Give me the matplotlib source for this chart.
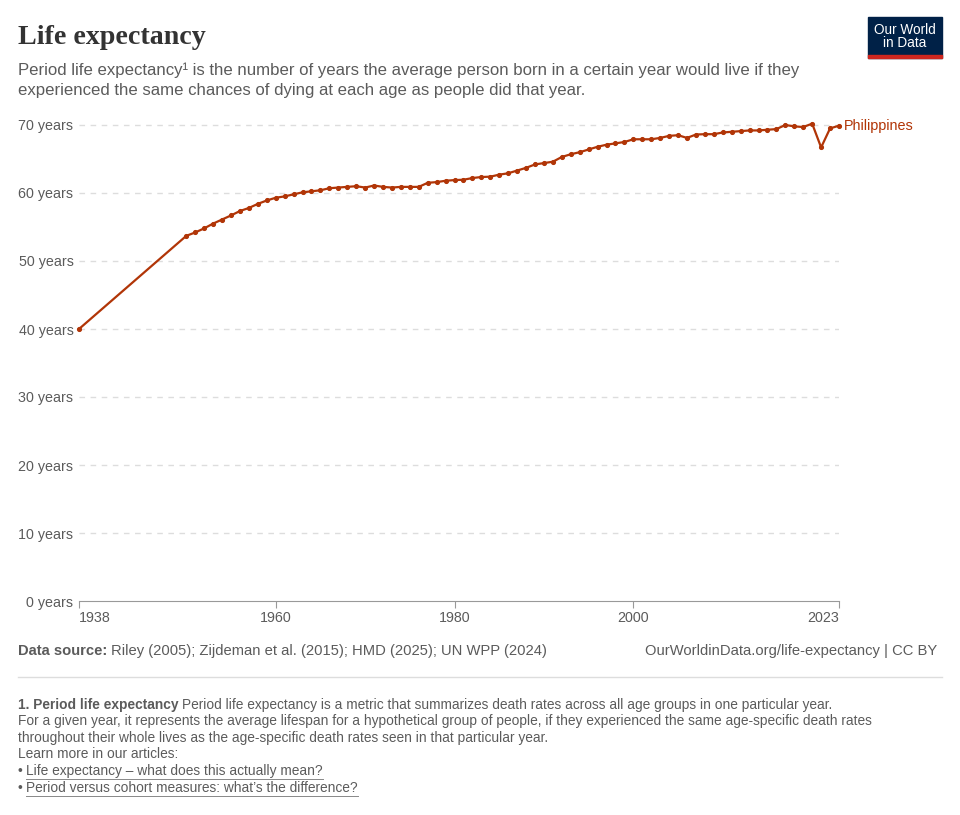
import numpy as np
import matplotlib
matplotlib.use("Agg")
import matplotlib.pyplot as plt
from matplotlib.lines import Line2D
from matplotlib.patches import Rectangle

# Data
years = [1938] + list(range(1950, 2024))
life_exp = [40.0,
            53.7, 54.2, 54.8, 55.5, 56.1, 56.7, 57.35, 57.8, 58.4, 58.9,
            59.3, 59.5, 59.8, 60.1, 60.25, 60.4, 60.7, 60.8, 60.9, 61.0,
            60.8, 61.1, 60.9, 60.8, 60.9, 60.9, 60.9, 61.5, 61.6, 61.8,
            61.9, 61.95, 62.2, 62.35, 62.4, 62.7, 62.9, 63.3, 63.7, 64.2,
            64.4, 64.6, 65.3, 65.7, 66.0, 66.4, 66.8, 67.1, 67.3, 67.5,
            67.9, 67.9, 67.9, 68.1, 68.4, 68.5, 68.1, 68.6, 68.65, 68.65,
            68.9, 69.0, 69.1, 69.2, 69.2, 69.3, 69.4, 70.0, 69.8, 69.7,
            70.2, 66.7, 69.5, 69.9]
life_exp = life_exp[:len(years)]
y_ticks = [0, 10, 20, 30, 40, 50, 60, 70]
x_ticks = [1938, 1960, 1980, 2000, 2023]
country = "Philippines"

line_color = "#b13507"
grey = "#5b5b5b"
W, H = 960, 815

plt.rcParams['font.family'] = ['Liberation Sans', 'DejaVu Sans']
fig = plt.figure(figsize=(W / 100, H / 100), dpi=100)


def fx(px):
    return px / W


def fy(py):
    return 1 - py / H


# plot area: x 79..839, y=0 at 601, 70 at 125
ymax = 71
top_px = 601 - ymax * (601 - 125) / 70
ax = fig.add_axes([fx(79), fy(601), fx(839 - 79), (601 - top_px) / H])
ax.plot(years, life_exp, color=line_color, lw=1.6, marker="o", ms=2.7,
        zorder=3, clip_on=False)
ax.set_xlim(1938, 2023)
ax.set_ylim(0, ymax)

for s in ["top", "right", "left"]:
    ax.spines[s].set_visible(False)
ax.spines["bottom"].set_color("#999999")
ax.spines["bottom"].set_linewidth(0.8)

for v in y_ticks[1:]:
    ax.axhline(v, color="#dddddd", lw=1, ls=(0, (4, 4)), zorder=1)

ax.set_yticks(y_ticks)
ax.set_yticklabels([f"{v} years" for v in y_ticks])
ax.tick_params(axis="y", length=0, pad=4, labelsize=10.3, labelcolor=grey)
ax.set_xticks(x_ticks)
ax.set_xticklabels([str(v) for v in x_ticks])
ax.tick_params(axis="x", length=5, color="#999999", width=0.8, pad=2,
               labelsize=10.3, labelcolor=grey)
xl = ax.get_xticklabels()
xl[0].set_ha("left")
xl[-1].set_ha("right")

ax.text(years[-1] + 0.6, life_exp[-1], country, color=line_color,
        fontsize=10.4, va="center", ha="left", clip_on=False)

# Title and subtitle
fig.text(fx(18), fy(37), "Life expectancy", family=["Liberation Serif"],
         fontsize=20.2, fontweight="bold", color="#333333", va="center")
fig.text(fx(18), fy(70), "Period life expectancy\u00b9 is the number of years the average person born in a certain year would live if they",
         fontsize=12.1, color=grey, va="center")
fig.text(fx(18), fy(90), "experienced the same chances of dying at each age as people did that year.",
         fontsize=12.1, color=grey, va="center")

# Logo
fig.patches.append(Rectangle((fx(868), fy(58)), fx(74), (58 - 17) / H,
                             transform=fig.transFigure, color="#002147"))
fig.patches.append(Rectangle((fx(868), fy(58)), fx(74), 3.5 / H,
                             transform=fig.transFigure, color="#ce261e"))
fig.text(fx(905), fy(36.5), "Our World\nin Data", color="white", fontsize=9.8,
         ha="center", va="center", linespacing=0.95)

# Footer
fig.canvas.draw()
r = fig.canvas.get_renderer()
t1 = fig.text(fx(18), fy(651), "Data source:", fontsize=10.6, fontweight="bold",
              color=grey, va="center")
w1 = t1.get_window_extent(r).width
fig.text(fx(18) + (w1 + 4) / W, fy(651),
         "Riley (2005); Zijdeman et al. (2015); HMD (2025); UN WPP (2024)",
         fontsize=10.6, color=grey, va="center")
fig.text(fx(937), fy(651), "OurWorldinData.org/life-expectancy | CC BY",
         fontsize=10.6, color=grey, va="center", ha="right")
fig.lines.append(Line2D([fx(18), fx(942)], [fy(677), fy(677)],
                        transform=fig.transFigure, color="#dddddd", lw=1))

fs = 9.9
t2 = fig.text(fx(18), fy(705), "1. Period life expectancy", fontsize=fs,
              fontweight="bold", color=grey, va="center")
w2 = t2.get_window_extent(r).width
fig.text(fx(18) + (w2 + 4) / W, fy(705),
         "Period life expectancy is a metric that summarizes death rates across all age groups in one particular year.",
         fontsize=fs, color=grey, va="center")
notes = ["For a given year, it represents the average lifespan for a hypothetical group of people, if they experienced the same age-specific death rates",
         "throughout their whole lives as the age-specific death rates seen in that particular year.",
         "Learn more in our articles:"]
for i, n in enumerate(notes):
    fig.text(fx(18), fy(721 + i * 16.6), n, fontsize=fs, color=grey, va="center")

links = ["Life expectancy \u2013 what does this actually mean?",
         "Period versus cohort measures: what\u2019s the difference?"]
for i, n in enumerate(links):
    yy = 771 + i * 17
    fig.text(fx(18), fy(yy), "\u2022", fontsize=fs, color=grey, va="center")
    t = fig.text(fx(26), fy(yy), n, fontsize=fs, color=grey, va="center")
    wl = t.get_window_extent(r).width
    fig.lines.append(Line2D([fx(26), fx(26) + wl / W], [fy(yy + 8), fy(yy + 8)],
                            transform=fig.transFigure, color="#888888", lw=0.7))

fig.savefig("out.png", dpi=100)
